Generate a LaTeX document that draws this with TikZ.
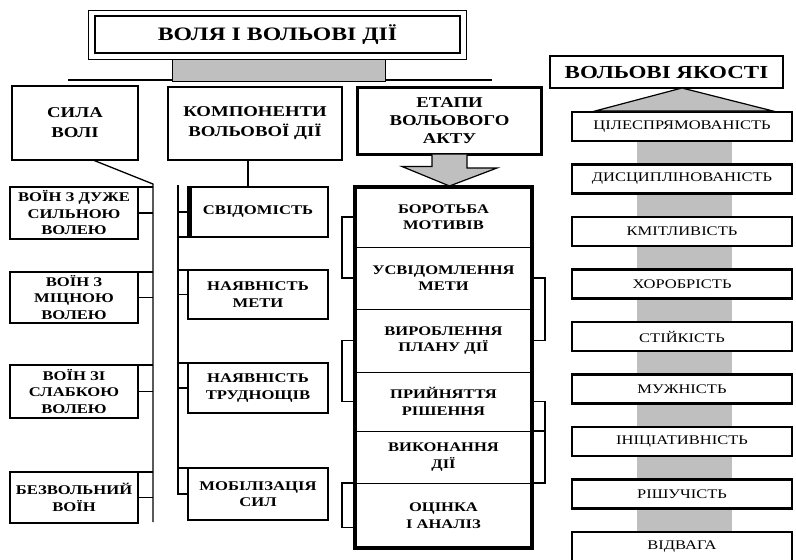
\documentclass[tikz,border=0pt]{standalone}
\usepackage{fontspec}
\setmainfont{Liberation Serif}[FakeStretch=1.25]
\usepackage{tikz}
\usetikzlibrary{positioning}
\tikzset{
BOX/.style ={draw=black, fill=white, line width=1.6pt, align=center, inner sep=1pt, outer sep=0pt, font=\fontsize{13.3}{16.5}\selectfont\bfseries},
HEAD/.style ={BOX, line width=2pt, font=\fontsize{15}{20}\selectfont\bfseries},
TITLE/.style ={BOX, line width=2.8pt, font=\fontsize{19}{21}\selectfont\bfseries},
STAGE/.style ={BOX, line width=1pt, minimum width=177pt, font=\fontsize{13.2}{16.5}\selectfont\bfseries},
QUALITY/.style ={BOX, line width=2.2pt, minimum width=220pt, minimum height=29pt, font=\fontsize{13.2}{15}\selectfont},
FRAME/.style ={draw=black, line width=3.8pt},
LINK/.style ={draw=black, line width=1.3pt},
REGION/.style={draw=none, fill=white!#1!black},
REGION/.default = 75,
}

\begin{document}
\begin{tikzpicture}[x=1pt, y=-1pt] %вольові дії
	\useasboundingbox (0,0) rectangle (796,560);
	% title
	\path[LINK] (68,80) -- (492,80);
	\path[REGION, draw=black, line width=0.8pt] (172,59) rectangle (385,81);
	\node[TITLE, minimum width=365pt, minimum height=37pt] (title) at (277.5,34.5) {ВОЛЯ І ВОЛЬОВІ ДІЇ};
	\draw[line width=0.7pt] (88,10) rectangle (466,59);
	% second row
	\node[HEAD, minimum width=126pt, minimum height=74pt] (sila) at (75,123) {СИЛА\\ВОЛІ};
	\node[HEAD, minimum width=174pt, minimum height=73pt] (komp) at (255,123.5) {КОМПОНЕНТИ\\ВОЛЬОВОЇ ДІЇ};
	\node[HEAD, line width=3.8pt, minimum width=184pt, minimum height=67pt, font=\fontsize{15}{18}\selectfont\bfseries] (etapy) at (449.5,121) {ЕТАПИ\\ВОЛЬОВОГО\\АКТУ};
	\node[HEAD, minimum width=233pt, minimum height=32pt, font=\fontsize{18.4}{20}\selectfont\bfseries] (yakosti) at (666.5,72) {ВОЛЬОВІ ЯКОСТІ};

	% сила волі
	\coordinate (lbustop) at (153,184);
	\coordinate (lbusbot) at (153,522);
	\node[BOX, minimum width=128pt, minimum height=52pt] (v1) at (74,213) {ВОЇН З ДУЖЕ\\СИЛЬНОЮ\\ВОЛЕЮ};
	\node[BOX, minimum width=128pt, minimum height=51pt] (v2) at (74,297.5) {ВОЇН З\\МІЦНОЮ\\ВОЛЕЮ};
	\node[BOX, minimum width=128pt, minimum height=53pt] (v3) at (74,391.5) {ВОЇН ЗІ\\СЛАБКОЮ\\ВОЛЕЮ};
	\node[BOX, minimum width=128pt, minimum height=51pt] (v4) at (74,497.5) {БЕЗВОЛЬНИЙ\\ВОЇН};
	\path[LINK] ([xshift=18pt]sila.south) -- (lbustop) -- (lbusbot);
	\path[LINK] (v1.north east) -- (v1.north east -| lbustop) (v1.east) -- (v1.east -| lbustop);
	\path[LINK] (v2.north east) -- (v2.north east -| lbustop) (v2.east) -- (v2.east -| lbustop);
	\path[LINK] (v3.north east) -- (v3.north east -| lbustop) (v3.east) -- (v3.east -| lbustop);
	\path[LINK] (v4.north east) -- (v4.north east -| lbustop) (v4.east) -- (v4.east -| lbustop);

	% компоненти
	\coordinate (mbustop) at (178,185);
	\coordinate (mbusbot) at (178,495);
	\node[BOX, minimum width=140pt, minimum height=50pt] (c1) at (258,212) {СВІДОМІСТЬ};
	\node[BOX, minimum width=140pt, minimum height=49pt] (c2) at (258,294.5) {НАЯВНІСТЬ\\МЕТИ};
	\node[BOX, minimum width=140pt, minimum height=50pt] (c3) at (258,388) {НАЯВНІСТЬ\\ТРУДНОЩІВ};
	\node[BOX, minimum width=140pt, minimum height=52pt] (c4) at (258,494) {МОБІЛІЗАЦІЯ\\СИЛ};
	\draw[line width=3pt] ([xshift=2pt]c1.north west) -- ([xshift=2pt]c1.south west);
	\path[LINK] ([xshift=-7pt]komp.south) -- ([xshift=-7pt]komp.south |- c1.north);
	\path[LINK] (mbustop) -- (mbusbot);
	\path[LINK] (c1.west) -- (c1.west -| mbustop) (c1.south west) -- (c1.south west -| mbustop);
	\path[LINK] (c2.north west) -- (c2.north west -| mbustop) (c2.west) -- (c2.west -| mbustop);
	\path[LINK] (c3.north west) -- (c3.north west -| mbustop) (c3.west) -- (c3.west -| mbustop);
	\path[LINK] (c4.north west) -- (c4.north west -| mbustop) (c4.west) -- (c4.west -| mbustop);

	% етапи
	\path[REGION, draw=black, line width=1.2pt] ([xshift=-17.5pt]etapy.south) -- ++(0,12) -- ++(-30,0) -- (449.5,186) -- (497,168) -- ++(-30,0) -- ([xshift=17.5pt]etapy.south);
	\node[STAGE, minimum height=60pt] (st1) at (443.5,217) {БОРОТЬБА\\МОТИВІВ};
	\node[STAGE, minimum height=62pt, below=0pt of st1] (st2) {УСВІДОМЛЕННЯ\\МЕТИ};
	\node[STAGE, minimum height=63pt, below=0pt of st2] (st3) {ВИРОБЛЕННЯ\\ПЛАНУ ДІЇ};
	\node[STAGE, minimum height=59pt, below=0pt of st3] (st4) {ПРИЙНЯТТЯ\\РІШЕННЯ};
	\node[STAGE, minimum height=52pt, below=0pt of st4] (st5) {ВИКОНАННЯ\\ДІЇ};
	\node[STAGE, minimum height=65pt, below=0pt of st5] (st6) {ОЦІНКА\\І АНАЛІЗ};
	\draw[FRAME] (st1.north west) rectangle (st6.south east);
	\path[LINK] (st1.west) -- ++(-13,0) |- (st2.west);
	\path[LINK] (st3.west) -- ++(-13,0) |- (st4.west);
	\path[LINK] (st5.south west) -- ++(-13,0) |- ([yshift=-12pt]st6.west);
	\path[LINK] (st2.east) -- ++(13,0) |- (st3.east);
	\path[LINK] (st4.east) -- ++(13,0) |- (st5.south east);
	\path[LINK] (st4.south east) -- ++(13,0);

	% вольові якості
	\path[REGION] (637,100) rectangle (732,560);
	\node[QUALITY] (q1) at (682,126.5) {ЦІЛЕСПРЯМОВАНІСТЬ};
	\path[REGION, draw=black, line width=1.2pt] (yakosti.south -| q1) -- (595,111) -- (773,111) -- cycle;
	\node[QUALITY, below=23.5pt of q1] (q2) {ДИСЦИПЛІНОВАНІСТЬ};
	\node[QUALITY, below=23.5pt of q2] (q3) {КМІТЛИВІСТЬ};
	\node[QUALITY, below=23.5pt of q3] (q4) {ХОРОБРІСТЬ};
	\node[QUALITY, below=23.5pt of q4] (q5) {СТІЙКІСТЬ};
	\node[QUALITY, below=23.5pt of q5] (q6) {МУЖНІСТЬ};
	\node[QUALITY, below=23.5pt of q6] (q7) {ІНІЦІАТИВНІСТЬ};
	\node[QUALITY, below=23.5pt of q7] (q8) {РІШУЧІСТЬ};
	\node[QUALITY, below=23.5pt of q8] (q9) {ВІДВАГА};
\end{tikzpicture}
\end{document}
